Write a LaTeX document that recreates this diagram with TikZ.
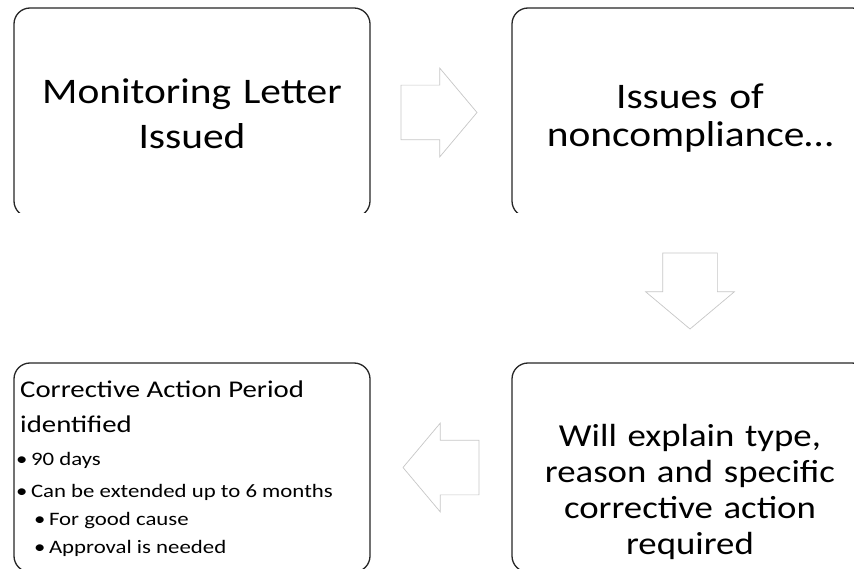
\documentclass[tikz,border=0pt]{standalone}
\usepackage{fontspec}
\setmainfont{Carlito}[FakeStretch=1.2]
\newfontfamily\bigfont{Carlito}[FakeStretch=1.15]
\usetikzlibrary{positioning,calc,shapes.arrows}

\newcommand{\bul}{\textbullet\hspace{3.5pt}}

\tikzset{
	stepbox/.style={draw=black!85, line width=1.3pt, rounded corners=16pt, minimum width=356pt, minimum height=209pt, inner sep=0pt, fill=white},
	bigtext/.style={font=\bigfont\fontsize{36}{45}\selectfont, align=center, text width=350pt},
	headtext/.style={font=\fontsize{24}{28}\selectfont, anchor=base west, inner sep=0pt},
	itemtext/.style={font=\fontsize{19}{22}\selectfont, anchor=base west, inner sep=0pt},
	flowarrow/.style={single arrow, draw=black!22, line width=0.7pt, fill=white, minimum height=76pt, inner xsep=0pt, inner ysep=27pt, single arrow head extend=17pt, single arrow tip angle=100, anchor=tail},
}

\begin{document}
\begin{tikzpicture}[x=1pt,y=-1pt]
	\useasboundingbox (0,0) rectangle (854,569);
	\clip (0,0) rectangle (854,569);
	% top row, cut off at the bottom
	\begin{scope}
		\clip (0,0) rectangle (854,213);
		\node[stepbox] (letter) at (192,112.5) {};
		\node[stepbox] (issues) at (690,112.5) {};
		\node[bigtext] at ($(letter.center)+(0,1.5)$) {Monitoring Letter\\Issued};
		\node[bigtext, font=\bigfont\fontsize{36}{38}\selectfont] at ($(issues.center)+(0,6)$) {Issues of\\noncompliance\ldots};
	\end{scope}
	% bottom row
	\node[stepbox] (period) at (192,467.5) {};
	\node[stepbox] (explain) at (690,467.5) {};
	\node[bigtext, font=\bigfont\fontsize{32}{36}\selectfont] at ($(explain.center)+(0,24)$) {Will explain type,\\reason and specific\\corrective action\\required};
	\node[headtext] (cap1) at (20,397) {Corrective Action Period};
	\node[headtext] (cap2) at (20,432) {identified};
	\node[itemtext] (b1) at (16,465) {\bul 90 days};
	\node[itemtext] (b2) at (16,497) {\bul Can be extended up to 6 months};
	\node[itemtext] (b3) at (34,525) {\bul For good cause};
	\node[itemtext] (b4) at (34,553) {\bul Approval is needed};
	% block arrows between the boxes
	\node[flowarrow] (go1) at ($(letter.east)+(30,0)$) {};
	\node[flowarrow, rotate=-90] (go2) at ($(issues.south)+(0,35)$) {};
	\node[flowarrow, rotate=180] (go3) at ($(explain.west)+(-32,0)$) {};
\end{tikzpicture}
\end{document}
